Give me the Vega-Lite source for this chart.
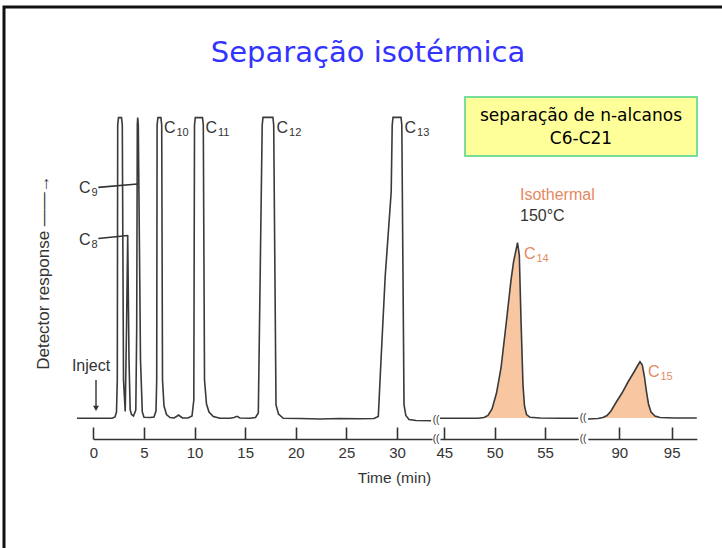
{
  "$schema": "https://vega.github.io/schema/vega-lite/v6.json",
  "width": 722,
  "height": 548,
  "autosize": {"type": "none"},
  "padding": {"left": 4, "top": 7, "right": -4, "bottom": -7},
  "background": "white",
  "config": {"view": {"stroke": "#111111", "strokeWidth": 3}, "font": "Liberation Sans"},
  "title": {"text": "Separação isotérmica", "font": "DejaVu Sans", "fontSize": 29, "fontWeight": "normal", "color": "#3333ff", "anchor": "middle", "frame": "group", "baseline": "alphabetic", "offset": -84, "dx": 3},
  "datasets": {
    "trace": [
      {"seg": 1, "t": -1.61, "r": -0.1}, {"seg": 1, "t": 1.847, "r": -0.1}, {"seg": 1, "t": 2.143, "r": 0.33}, {"seg": 1, "t": 2.291, "r": 1.99},
      {"seg": 1, "t": 2.37, "r": 12.62}, {"seg": 1, "t": 2.41, "r": 97.31}, {"seg": 1, "t": 2.489, "r": 99.8}, {"seg": 1, "t": 2.785, "r": 99.8},
      {"seg": 1, "t": 2.864, "r": 97.31}, {"seg": 1, "t": 2.983, "r": 12.62}, {"seg": 1, "t": 3.151, "r": 2.16}, {"seg": 1, "t": 3.279, "r": 29.23},
      {"seg": 1, "t": 3.398, "r": 60.78}, {"seg": 1, "t": 3.526, "r": 19.26}, {"seg": 1, "t": 3.644, "r": 2.66}, {"seg": 1, "t": 3.773, "r": 1.16},
      {"seg": 1, "t": 3.97, "r": 0.66}, {"seg": 1, "t": 4.198, "r": 2.66}, {"seg": 1, "t": 4.286, "r": 29.23}, {"seg": 1, "t": 4.346, "r": 97.31},
      {"seg": 1, "t": 4.385, "r": 99.8}, {"seg": 1, "t": 4.444, "r": 97.31}, {"seg": 1, "t": 4.662, "r": 19.26}, {"seg": 1, "t": 4.84, "r": 1.99},
      {"seg": 1, "t": 5.007, "r": 0.23}, {"seg": 1, "t": 5.6, "r": 0.17}, {"seg": 1, "t": 5.995, "r": 0.33}, {"seg": 1, "t": 6.193, "r": 2.32},
      {"seg": 1, "t": 6.262, "r": 12.62}, {"seg": 1, "t": 6.301, "r": 97.31}, {"seg": 1, "t": 6.38, "r": 99.8}, {"seg": 1, "t": 6.677, "r": 99.8},
      {"seg": 1, "t": 6.756, "r": 97.31}, {"seg": 1, "t": 6.835, "r": 12.62}, {"seg": 1, "t": 6.983, "r": 3.99}, {"seg": 1, "t": 7.23, "r": 1.16},
      {"seg": 1, "t": 7.575, "r": 0.17}, {"seg": 1, "t": 7.97, "r": 0}, {"seg": 1, "t": 8.217, "r": 0.5}, {"seg": 1, "t": 8.415, "r": 1.0},
      {"seg": 1, "t": 8.612, "r": 0.5}, {"seg": 1, "t": 8.81, "r": 0}, {"seg": 1, "t": 9.353, "r": 0}, {"seg": 1, "t": 9.748, "r": 0.66},
      {"seg": 1, "t": 9.926, "r": 5.98}, {"seg": 1, "t": 9.995, "r": 97.31}, {"seg": 1, "t": 10.074, "r": 99.8}, {"seg": 1, "t": 10.785, "r": 99.8},
      {"seg": 1, "t": 10.864, "r": 97.31}, {"seg": 1, "t": 10.983, "r": 12.62}, {"seg": 1, "t": 11.18, "r": 4.65}, {"seg": 1, "t": 11.427, "r": 1.99},
      {"seg": 1, "t": 11.852, "r": 0.5}, {"seg": 1, "t": 12.514, "r": -0.1}, {"seg": 1, "t": 13.501, "r": -0.1}, {"seg": 1, "t": 13.896, "r": 0.17},
      {"seg": 1, "t": 14.193, "r": 0.56}, {"seg": 1, "t": 14.489, "r": 0}, {"seg": 1, "t": 15.477, "r": -0.1}, {"seg": 1, "t": 16.02, "r": 0.17},
      {"seg": 1, "t": 16.296, "r": 1.66}, {"seg": 1, "t": 16.681, "r": 97.31}, {"seg": 1, "t": 16.76, "r": 99.87}, {"seg": 1, "t": 17.738, "r": 99.87},
      {"seg": 1, "t": 17.817, "r": 97.31}, {"seg": 1, "t": 18.044, "r": 4.32}, {"seg": 1, "t": 18.291, "r": 1.33}, {"seg": 1, "t": 18.765, "r": -0.1},
      {"seg": 1, "t": 20.415, "r": -0.17}, {"seg": 1, "t": 22.39, "r": -0.33}, {"seg": 1, "t": 24.365, "r": -0.17}, {"seg": 1, "t": 26.341, "r": -0.27},
      {"seg": 1, "t": 27.723, "r": -0.17}, {"seg": 1, "t": 28.148, "r": 0.5}, {"seg": 1, "t": 28.415, "r": 19.26}, {"seg": 1, "t": 28.83, "r": 47.16},
      {"seg": 1, "t": 29.42, "r": 75.06}, {"seg": 1, "t": 29.521, "r": 97.31}, {"seg": 1, "t": 29.6, "r": 99.87}, {"seg": 1, "t": 30.39, "r": 99.87},
      {"seg": 1, "t": 30.469, "r": 97.31}, {"seg": 1, "t": 30.686, "r": 4.32}, {"seg": 1, "t": 30.864, "r": 0.83}, {"seg": 1, "t": 31.18, "r": -0.5},
      {"seg": 1, "t": 31.872, "r": -0.83}, {"seg": 1, "t": 33.353, "r": -0.9},
      {"seg": 2, "t": 44.571, "r": -0.1}, {"seg": 2, "t": 46.557, "r": -0.1}, {"seg": 2, "t": 48.345, "r": -0.07}, {"seg": 2, "t": 48.94, "r": 0.17},
      {"seg": 2, "t": 49.338, "r": 0.83}, {"seg": 2, "t": 49.735, "r": 2.99}, {"seg": 2, "t": 50.182, "r": 8.3}, {"seg": 2, "t": 50.629, "r": 16.61},
      {"seg": 2, "t": 51.125, "r": 30.89}, {"seg": 2, "t": 51.622, "r": 45.83}, {"seg": 2, "t": 51.87, "r": 51.81}, {"seg": 2, "t": 52.27, "r": 58.29},
      {"seg": 2, "t": 52.446, "r": 54.13}, {"seg": 2, "t": 52.615, "r": 32.55}, {"seg": 2, "t": 52.813, "r": 10.96}, {"seg": 2, "t": 52.962, "r": 3.99},
      {"seg": 2, "t": 53.161, "r": 1.16}, {"seg": 2, "t": 53.508, "r": 0.23}, {"seg": 2, "t": 54.501, "r": 0}, {"seg": 2, "t": 56.487, "r": -0.1},
      {"seg": 2, "t": 58.305, "r": -0.1},
      {"seg": 3, "t": 87.013, "r": -0.33}, {"seg": 3, "t": 87.968, "r": -0.17}, {"seg": 3, "t": 88.445, "r": 0.17}, {"seg": 3, "t": 88.826, "r": 0.83},
      {"seg": 3, "t": 89.208, "r": 2.32}, {"seg": 3, "t": 89.685, "r": 5.15}, {"seg": 3, "t": 90.258, "r": 8.3}, {"seg": 3, "t": 90.83, "r": 11.96},
      {"seg": 3, "t": 91.403, "r": 15.28}, {"seg": 3, "t": 91.813, "r": 17.77}, {"seg": 3, "t": 91.975, "r": 18.7}, {"seg": 3, "t": 92.195, "r": 17.6},
      {"seg": 3, "t": 92.405, "r": 13.62}, {"seg": 3, "t": 92.595, "r": 8.64}, {"seg": 3, "t": 92.786, "r": 4.65}, {"seg": 3, "t": 93.025, "r": 1.99},
      {"seg": 3, "t": 93.406, "r": 0.66}, {"seg": 3, "t": 93.884, "r": 0.17}, {"seg": 3, "t": 95.315, "r": 0}, {"seg": 3, "t": 97.395, "r": 0}
    ],
    "labels": [
      {"seg": 1, "group": "peak", "label": "C", "sub": "10", "t": 6.983, "r": 96.31},
      {"seg": 1, "group": "peak", "label": "C", "sub": "11", "t": 11.081, "r": 96.31},
      {"seg": 1, "group": "peak", "label": "C", "sub": "12", "t": 18.094, "r": 96.31},
      {"seg": 1, "group": "peak", "label": "C", "sub": "13", "t": 30.736, "r": 96.31},
      {"seg": 1, "group": "peak", "label": "C", "sub": "9", "t": -1.412, "r": 76.39},
      {"seg": 1, "group": "peak", "label": "C", "sub": "8", "t": -1.412, "r": 59.12},
      {"seg": 1, "group": "note", "label": "Inject", "sub": "", "t": -0.227, "r": 17.27},
      {"seg": 2, "group": "isothermal", "label": "Isothermal", "sub": "", "t": 52.516, "r": 74.06},
      {"seg": 2, "group": "note", "label": "150°C", "sub": "", "t": 52.516, "r": 67.09},
      {"seg": 2, "group": "isothermal", "label": "C", "sub": "14", "t": 52.913, "r": 54.47},
      {"seg": 3, "group": "isothermal", "label": "C", "sub": "15", "t": 92.739, "r": 15.28},
      {"seg": 3, "group": "box", "label": "separação de n-alcanos", "sub": "", "t": 86.345, "r": 100.3},
      {"seg": 3, "group": "box", "label": "C6-C21", "sub": "", "t": 86.345, "r": 92.66}
    ],
    "leaders": [
      {"label": "C9", "t": 0.494, "t2": 4.365, "r": 76.62, "r2": 77.72},
      {"label": "C8", "t": 0.494, "t2": 3.427, "r": 59.61, "r2": 60.61}
    ],
    "arrows": [{"label": "Inject", "t": 0.267, "r": 12.62, "r2": 3.2}],
    "breaks": [
      {"seg": 1, "t": 33.85, "r": -0.6}, {"seg": 1, "t": 33.85, "r": -6.97},
      {"seg": 2, "t": 58.77, "r": -0.1}, {"seg": 2, "t": 58.77, "r": -6.97}
    ],
    "box": [{"label": "separação de n-alcanos C6-C21", "t": 75.28, "t2": 97.41, "r": 106.61, "r2": 87.01}]
  },
  "encoding": {
    "y": {
      "field": "r", "type": "quantitative",
      "scale": {"domain": [0, 100], "range": [411, 110], "nice": false, "zero": false},
      "axis": {"title": "Detector response ——→", "domain": false, "ticks": false, "labels": false, "grid": false,
               "titleX": 39, "titleY": 265, "titleAngle": -90, "titleAlign": "center", "titleBaseline": "middle",
               "titleFontSize": 17, "titleFont": "Liberation Sans", "titleFontWeight": "normal", "titleColor": "#333333"}
    }
  },
  "layer": [
    {
      "layer": [
        {
          "data": {"name": "trace"},
          "transform": [{"filter": "datum.seg == 1"}],
          "mark": {"type": "line", "color": "#3a3a3a", "strokeWidth": 1.6, "clip": false},
          "encoding": {
            "x": {"field": "t", "type": "quantitative",
                  "scale": {"domain": [0, 33.45], "range": [89.3, 428], "nice": false, "zero": false},
                  "axis": {"orient": "bottom", "offset": -116, "values": [0, 5, 10, 15, 20, 25, 30], "format": "d", "grid": false,
                           "domainColor": "#333333", "domainWidth": 1.6, "tickColor": "#333333", "tickWidth": 1.6, "tickSize": -12,
                           "labelPadding": 18, "labelFontSize": 15, "labelFont": "Liberation Sans", "labelColor": "#333333", "labelFlush": false,
                           "title": "Time (min)", "titleX": 390, "titleY": 38, "titleBaseline": "middle", "titleAlign": "center",
                           "titleFontSize": 15.5, "titleFont": "Liberation Sans", "titleFontWeight": "normal", "titleColor": "#333333"}}
          }
        },
        {
          "data": {"name": "labels"},
          "transform": [{"filter": "datum.seg == 1 && datum.group == 'peak'"}],
          "mark": {"type": "text", "align": "left", "baseline": "middle", "fontSize": 16, "color": "#333333", "clip": false},
          "encoding": {"x": {"field": "t", "type": "quantitative"}, "text": {"field": "label"}}
        },
        {
          "data": {"name": "labels"},
          "transform": [{"filter": "datum.seg == 1 && datum.sub != ''"}],
          "mark": {"type": "text", "align": "left", "baseline": "middle", "fontSize": 11, "dx": 12.5, "dy": 4.5, "color": "#333333", "clip": false},
          "encoding": {"x": {"field": "t", "type": "quantitative"}, "text": {"field": "sub"}}
        },
        {
          "data": {"name": "labels"},
          "transform": [{"filter": "datum.seg == 1 && datum.group == 'note'"}],
          "mark": {"type": "text", "align": "center", "baseline": "middle", "fontSize": 16, "color": "#333333", "clip": false},
          "encoding": {"x": {"field": "t", "type": "quantitative"}, "text": {"field": "label"}}
        },
        {
          "data": {"name": "leaders"},
          "mark": {"type": "rule", "color": "#333333", "strokeWidth": 1.6, "clip": false},
          "encoding": {"x": {"field": "t", "type": "quantitative"}, "x2": {"field": "t2"}, "y2": {"field": "r2"}}
        },
        {
          "data": {"name": "arrows"},
          "mark": {"type": "rule", "color": "#333333", "strokeWidth": 1.4, "clip": false},
          "encoding": {"x": {"field": "t", "type": "quantitative"}, "y2": {"field": "r2"}}
        },
        {
          "data": {"name": "arrows"},
          "mark": {"type": "point", "shape": "triangle-down", "filled": true, "size": 35, "color": "#333333", "opacity": 1, "clip": false},
          "encoding": {"x": {"field": "t", "type": "quantitative"}, "y": {"field": "r2", "type": "quantitative"}}
        },
        {
          "data": {"name": "breaks"},
          "transform": [{"filter": "datum.seg == 1"}],
          "mark": {"type": "text", "align": "center", "baseline": "middle", "fontSize": 10, "color": "#333333", "clip": false},
          "encoding": {"x": {"field": "t", "type": "quantitative"}, "text": {"value": "(("}}
        }
      ]
    },
    {
      "layer": [
        {
          "data": {"name": "trace"},
          "transform": [{"filter": "datum.seg == 2"}, {"filter": {"field": "t", "range": [48.3, 53.6]}}],
          "mark": {"type": "area", "color": "#f8c6a0", "opacity": 1, "clip": false},
          "encoding": {
            "x": {"field": "t", "type": "quantitative",
                  "scale": {"domain": [44.57, 58.3], "range": [436, 574.25], "nice": false, "zero": false},
                  "axis": {"orient": "bottom", "offset": -116, "values": [45, 50, 55], "format": "d", "grid": false, "title": null,
                           "domainColor": "#333333", "domainWidth": 1.6, "tickColor": "#333333", "tickWidth": 1.6, "tickSize": -12,
                           "labelPadding": 18, "labelFontSize": 15, "labelFont": "Liberation Sans", "labelColor": "#333333", "labelFlush": false}}
          }
        },
        {
          "data": {"name": "trace"},
          "transform": [{"filter": "datum.seg == 2"}],
          "mark": {"type": "line", "color": "#3a3a3a", "strokeWidth": 1.6, "clip": false},
          "encoding": {"x": {"field": "t", "type": "quantitative"}}
        },
        {
          "data": {"name": "labels"},
          "transform": [{"filter": "datum.seg == 2 && datum.group == 'isothermal'"}],
          "mark": {"type": "text", "align": "left", "baseline": "middle", "fontSize": 16, "color": "#e4895f", "clip": false},
          "encoding": {"x": {"field": "t", "type": "quantitative"}, "text": {"field": "label"}}
        },
        {
          "data": {"name": "labels"},
          "transform": [{"filter": "datum.seg == 2 && datum.sub != ''"}],
          "mark": {"type": "text", "align": "left", "baseline": "middle", "fontSize": 11, "dx": 12.5, "dy": 4.5, "color": "#e4895f", "clip": false},
          "encoding": {"x": {"field": "t", "type": "quantitative"}, "text": {"field": "sub"}}
        },
        {
          "data": {"name": "labels"},
          "transform": [{"filter": "datum.seg == 2 && datum.group == 'note'"}],
          "mark": {"type": "text", "align": "left", "baseline": "middle", "fontSize": 16, "color": "#333333", "clip": false},
          "encoding": {"x": {"field": "t", "type": "quantitative"}, "text": {"field": "label"}}
        },
        {
          "data": {"name": "breaks"},
          "transform": [{"filter": "datum.seg == 2"}],
          "mark": {"type": "text", "align": "center", "baseline": "middle", "fontSize": 10, "color": "#333333", "clip": false},
          "encoding": {"x": {"field": "t", "type": "quantitative"}, "text": {"value": "(("}}
        }
      ]
    },
    {
      "layer": [
        {
          "data": {"name": "trace"},
          "transform": [{"filter": "datum.seg == 3"}, {"filter": {"field": "t", "range": [88.0, 94.0]}}],
          "mark": {"type": "area", "color": "#f8c6a0", "opacity": 1, "clip": false},
          "encoding": {
            "x": {"field": "t", "type": "quantitative",
                  "scale": {"domain": [87.0, 97.4], "range": [583.86, 692.85], "nice": false, "zero": false},
                  "axis": {"orient": "bottom", "offset": -116, "values": [90, 95], "format": "d", "grid": false, "title": null,
                           "domainColor": "#333333", "domainWidth": 1.6, "tickColor": "#333333", "tickWidth": 1.6, "tickSize": -12,
                           "labelPadding": 18, "labelFontSize": 15, "labelFont": "Liberation Sans", "labelColor": "#333333", "labelFlush": false}}
          }
        },
        {
          "data": {"name": "trace"},
          "transform": [{"filter": "datum.seg == 3"}],
          "mark": {"type": "line", "color": "#3a3a3a", "strokeWidth": 1.6, "clip": false},
          "encoding": {"x": {"field": "t", "type": "quantitative"}}
        },
        {
          "data": {"name": "labels"},
          "transform": [{"filter": "datum.seg == 3 && datum.group == 'isothermal'"}],
          "mark": {"type": "text", "align": "left", "baseline": "middle", "fontSize": 16, "color": "#e4895f", "clip": false},
          "encoding": {"x": {"field": "t", "type": "quantitative"}, "text": {"field": "label"}}
        },
        {
          "data": {"name": "labels"},
          "transform": [{"filter": "datum.seg == 3 && datum.sub != ''"}],
          "mark": {"type": "text", "align": "left", "baseline": "middle", "fontSize": 11, "dx": 12.5, "dy": 4.5, "color": "#e4895f", "clip": false},
          "encoding": {"x": {"field": "t", "type": "quantitative"}, "text": {"field": "sub"}}
        },
        {
          "data": {"name": "box"},
          "mark": {"type": "rect", "fill": "#ffff99", "stroke": "#77dd99", "strokeWidth": 2, "clip": false},
          "encoding": {"x": {"field": "t", "type": "quantitative"}, "x2": {"field": "t2"}, "y2": {"field": "r2"}}
        },
        {
          "data": {"name": "labels"},
          "transform": [{"filter": "datum.group == 'box'"}],
          "mark": {"type": "text", "align": "center", "baseline": "middle", "fontSize": 17, "font": "DejaVu Sans", "color": "#000000", "clip": false},
          "encoding": {"x": {"field": "t", "type": "quantitative"}, "text": {"field": "label"}}
        }
      ]
    }
  ],
  "resolve": {"scale": {"x": "independent"}, "axis": {"x": "independent"}}
}
